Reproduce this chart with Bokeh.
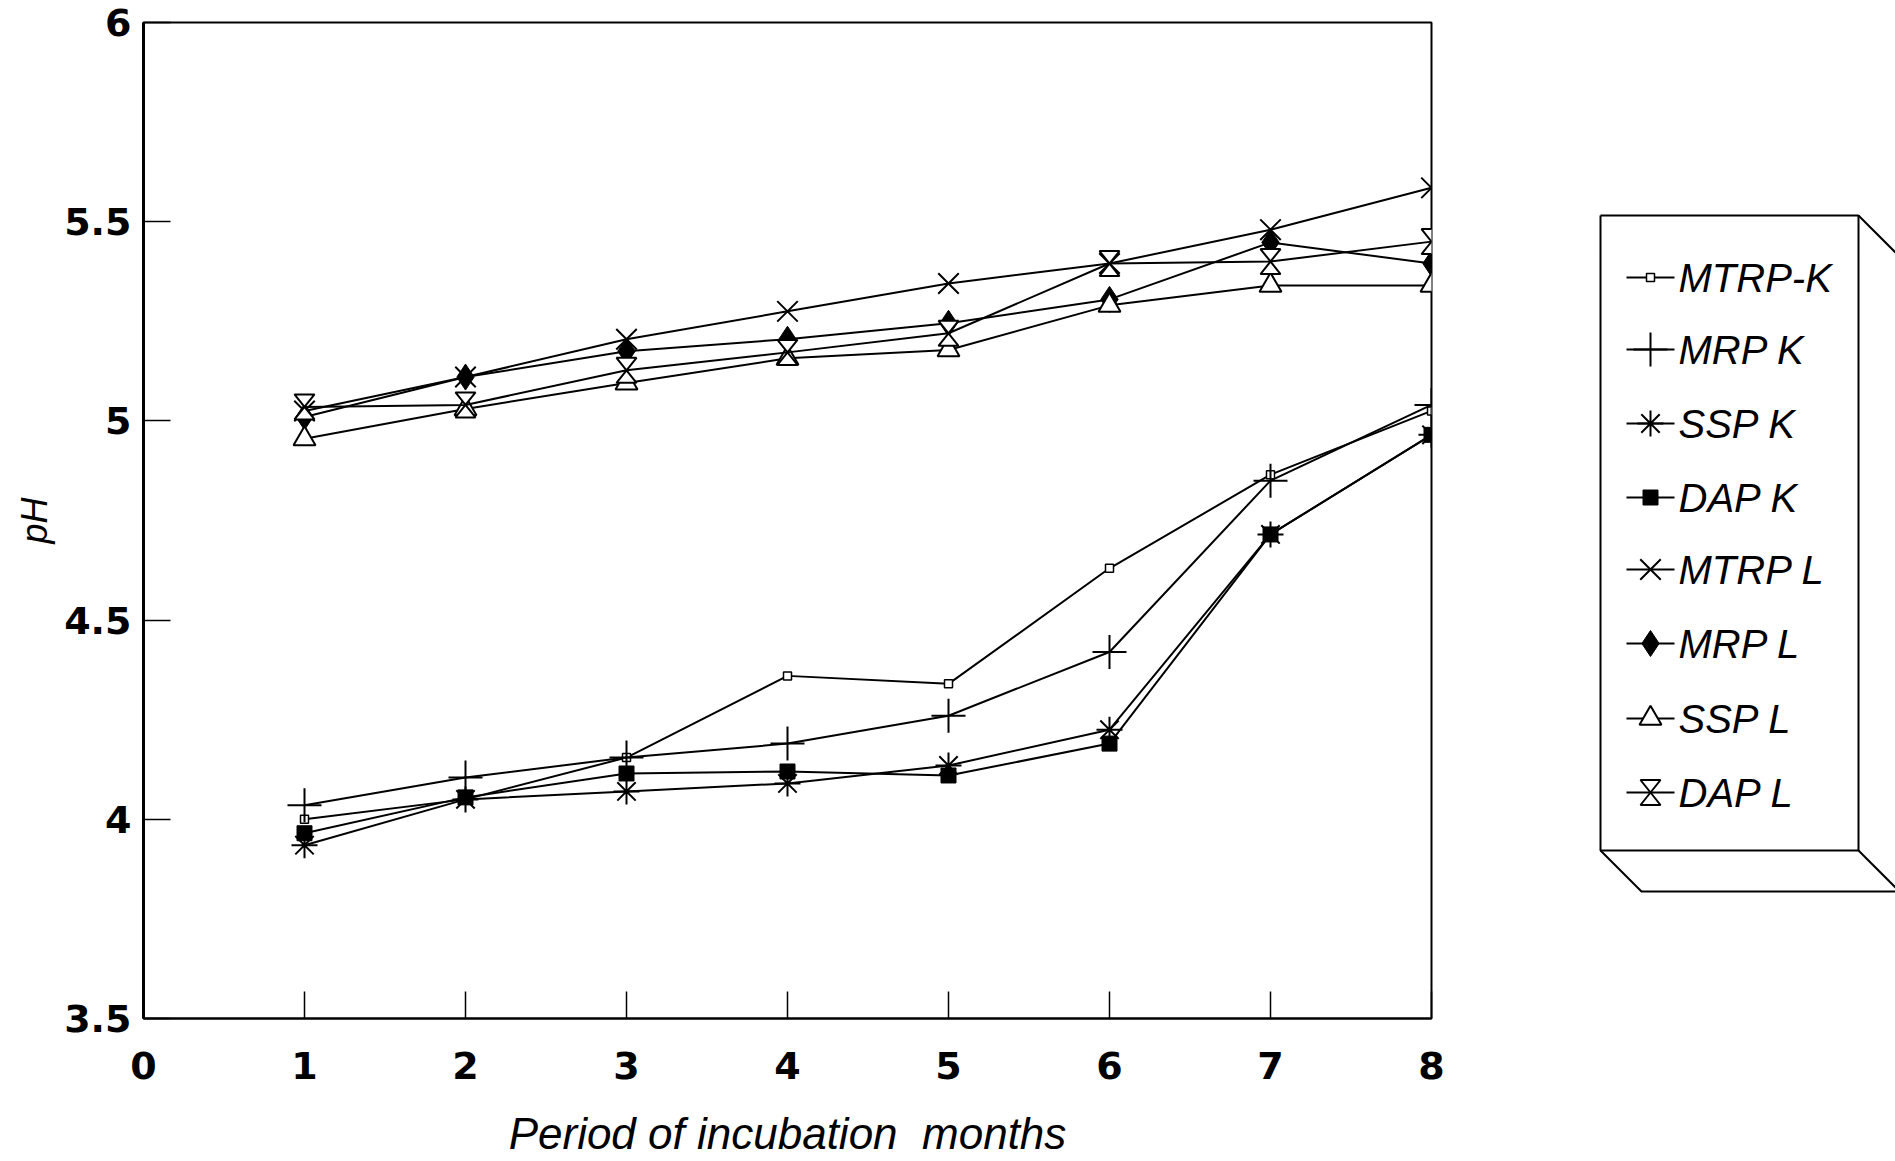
from bokeh.plotting import figure
from bokeh.models import Range1d, FixedTicker, NumeralTickFormatter
from bokeh.layouts import row
from bokeh.embed import file_html
from bokeh.resources import INLINE
from bokeh.core.properties import value

# ---------------- data ----------------
months = [1, 2, 3, 4, 5, 6, 7, 8]

mtrp_k = [4.00, 4.05, 4.155, 4.36, 4.34, 4.63, 4.865, 5.025]
mrp_k = [4.035, 4.105, 4.155, 4.19, 4.26, 4.42, 4.85, 5.04]
ssp_k = [3.935, 4.05, 4.07, 4.09, 4.135, 4.225, 4.715, 4.965]
dap_k = [3.965, 4.055, 4.115, 4.12, 4.11, 4.19, 4.715, 4.965]

mtrp_l = [5.025, 5.11, 5.205, 5.275, 5.345, 5.395, 5.48, 5.585]
mrp_l = [5.01, 5.11, 5.175, 5.205, 5.245, 5.305, 5.448, 5.395]
ssp_l = [4.955, 5.03, 5.095, 5.157, 5.178, 5.29, 5.34, 5.34]
dap_l = [5.035, 5.04, 5.127, 5.172, 5.22, 5.395, 5.40, 5.45]

series_names = ["MTRP-K", "MRP K", " SSP K", "DAP K", "MTRP L", "MRP L", "SSP L", "DAP L"]

x_ticks = [0, 1, 2, 3, 4, 5, 6, 7, 8]
y_ticks = [3.5, 4, 4.5, 5, 5.5, 6]

x_label = "Period of incubation \u00a0months"
y_label = "pH"

# ---------------- styles ----------------
BLACK = "black"
styles = [
    dict(marker="square", size=8, fill_color="white", line_width=1.5),
    dict(marker="cross", size=34, fill_color=None, line_width=2),
    dict(marker="asterisk", size=26, fill_color=None, line_width=2),
    dict(marker="square", size=15, fill_color=BLACK, line_width=1),
    dict(marker="x", size=29, fill_color=None, line_width=2),
    dict(marker="diamond", size=26, fill_color=BLACK, line_width=1),
    dict(marker="triangle", size=22, fill_color="white", line_width=2),
    None,  # hourglass, drawn as patches
]
all_series = [mtrp_k, mrp_k, ssp_k, dap_k, mtrp_l, mrp_l, ssp_l, dap_l]

# ---------------- main plot ----------------
BORDER_T, BORDER_B = 22, 143
p = figure(width=1500, height=1161,
           x_range=Range1d(0, 8), y_range=Range1d(3.5, 6),
           output_backend="svg", toolbar_location=None,
           min_border_left=143, min_border_right=69,
           min_border_top=BORDER_T, min_border_bottom=BORDER_B)
p.grid.visible = False
p.background_fill_color = "white"
p.border_fill_color = "white"
p.outline_line_color = BLACK
p.outline_line_width = 2

p.xaxis.ticker = FixedTicker(ticks=x_ticks)
p.yaxis.ticker = FixedTicker(ticks=y_ticks)
p.yaxis.formatter = NumeralTickFormatter(format="0.[0]")

for ax in p.axis:
    ax.major_tick_in = 27
    ax.major_tick_out = 0
    ax.minor_tick_line_color = None
    ax.major_tick_line_color = BLACK
    ax.major_tick_line_width = 1.5
    ax.axis_line_color = BLACK
    ax.major_label_text_font = "DejaVu Sans"
    ax.major_label_text_font_style = "bold"
    ax.major_label_text_font_size = "38px"
    ax.major_label_text_color = BLACK
    ax.axis_label_text_font = "Liberation Sans"
    ax.axis_label_text_font_style = "italic"
    ax.axis_label_text_color = BLACK

p.yaxis.axis_line_width = 3
p.xaxis.axis_line_width = 2
p.xaxis.axis_label = x_label
p.xaxis.axis_label_text_font_size = "44px"
p.xaxis.major_label_standoff = 33
p.xaxis.axis_label_standoff = 27
p.yaxis.axis_label = y_label
p.yaxis.axis_label_text_font_size = "36px"
p.yaxis.major_label_standoff = 12
p.yaxis.axis_label_standoff = 6

# pixel scale of the frame (used for the hourglass marker geometry)
px_x = 1288 / 8.0
px_y = 996 / 2.5
hx = 10 / px_x
hy = 12.5 / px_y

for vals, st in zip(all_series, styles):
    p.line(months, vals, line_color=BLACK, line_width=2)
    if st is None:
        xs = [[m - hx, m + hx, m - hx, m + hx] for m in months]
        ys = [[v + hy, v + hy, v - hy, v - hy] for v in vals]
        p.patches(xs, ys, fill_color="white", line_color=BLACK, line_width=2)
    else:
        p.scatter(months, vals, marker=st["marker"], size=st["size"],
                  fill_color=st["fill_color"], line_color=BLACK,
                  line_width=st["line_width"])

# ---------------- legend (separate panel, page-pixel coordinates) ----------------
leg = figure(width=395, height=1161,
             x_range=Range1d(1500, 1895), y_range=Range1d(1161 - BORDER_B, BORDER_T),
             output_backend="svg", toolbar_location=None,
             min_border_left=0, min_border_right=0,
             min_border_top=BORDER_T, min_border_bottom=BORDER_B,
             x_axis_location=None, y_axis_location=None)
leg.grid.visible = False
leg.outline_line_color = None
leg.background_fill_color = "white"
leg.border_fill_color = "white"

L, T, R, B, D = 1600, 215, 1858, 850, 41
box_xs = [[L, R, R, L, L], [R, R + D], [L, L + D, R + D, R + D], [R, R + D]]
box_ys = [[T, T, B, B, T], [T, T + D], [B, B + D, B + D, T + D], [B, B + D]]
leg.multi_line(box_xs, box_ys, line_color=BLACK, line_width=2)

rows_y = [277, 349, 423, 497, 569, 643, 718, 792]
gx0, gx1, gxc = 1626, 1674, 1650
leg.segment(x0=[gx0] * 8, y0=rows_y, x1=[gx1] * 8, y1=rows_y,
            line_color=BLACK, line_width=2)
for ry, st in zip(rows_y, styles):
    if st is None:
        leg.patches([[gxc - 10, gxc + 10, gxc - 10, gxc + 10]],
                    [[ry - 12.5, ry - 12.5, ry + 12.5, ry + 12.5]],
                    fill_color="white", line_color=BLACK, line_width=2)
    else:
        leg.scatter([gxc], [ry], marker=st["marker"], size=st["size"],
                    fill_color=st["fill_color"], line_color=BLACK,
                    line_width=st["line_width"])
leg.text(x=[1678] * 8, y=rows_y, text=series_names,
         text_font=value("Liberation Sans"), text_font_style="italic",
         text_font_size="40px", text_baseline="middle", text_align="left",
         text_color=BLACK)

layout = row(p, leg)
open("out.html", "w").write(file_html(layout, INLINE))
